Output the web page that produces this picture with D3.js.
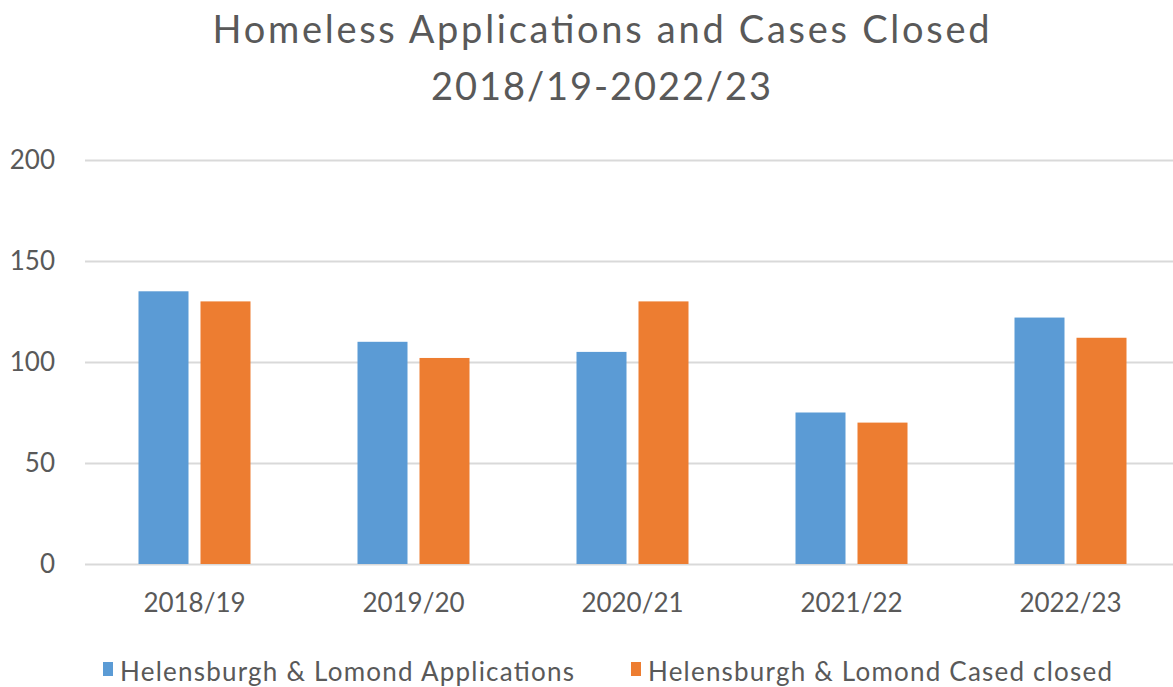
<!DOCTYPE html>
<html>
<head>
<meta charset="utf-8">
<script src="https://cdn.jsdelivr.net/npm/d3@7"></script>
<style>
  body { margin: 0; background: #fff; }
  text { font-family: Lato, "Open Sans", sans-serif; fill: #595959; }
</style>
</head>
<body>
<div id="chart"></div>
<script>
var width = 1173;
var height = 687;

// data
var categories = ["2018/19", "2019/20", "2020/21", "2021/22", "2022/23"];
var series = ["Helensburgh & Lomond Applications", "Helensburgh & Lomond Cased closed"];
var applications = [135, 110, 105, 75, 122];
var casesClosed = [130, 102, 130, 70, 112];
var yTicks = [0, 50, 100, 150, 200];
var colors = ["#5B9BD5", "#ED7D31"];

var svg = d3.select("#chart")
	.append("svg")
	.attr("width", width)
	.attr("height", height);

var x0 = d3.scaleBand()
	.domain(categories)
	.range([85, 1180])
	.padding(0);

var x1 = d3.scaleBand()
	.domain(series)
	.range([53.5, 165.5])
	.paddingInner(12 / 62);

var y = d3.scaleLinear()
	.domain([0, 200])
	.range([564, 160]);

// title
svg.append("text")
	.attr("x", 601).attr("y", 43)
	.attr("text-anchor", "middle")
	.attr("textLength", 777).attr("lengthAdjust", "spacing")
	.style("font-size", "38px")
	.text("Homeless Applications and Cases Closed");
svg.append("text")
	.attr("x", 601).attr("y", 100)
	.attr("text-anchor", "middle")
	.attr("textLength", 340).attr("lengthAdjust", "spacing")
	.style("font-size", "38px")
	.text("2018/19-2022/23");

// gridlines
var grid = svg.append("g")
	.attr("transform", "translate(85,0)")
	.call(d3.axisLeft(y).tickValues(yTicks).tickSize(-(1180 - 85)).tickFormat(""));
grid.select(".domain").remove();
grid.selectAll("line").attr("stroke", "#d9d9d9").attr("stroke-width", 2);

// y labels
svg.append("g").selectAll("text")
	.data(yTicks)
	.enter().append("text")
	.attr("x", 55)
	.attr("y", function(d) { return y(d) + 9; })
	.attr("text-anchor", "end")
	.style("font-size", "26px")
	.text(function(d) { return d; });

// bars
var bars = [];
categories.forEach(function(c, i) {
	bars.push({cat: c, s: 0, v: applications[i]});
	bars.push({cat: c, s: 1, v: casesClosed[i]});
});

svg.append("g").selectAll("rect")
	.data(bars)
	.enter().append("rect")
	.attr("x", function(d) { return x0(d.cat) + x1(series[d.s]); })
	.attr("y", function(d) { return y(d.v); })
	.attr("width", x1.bandwidth())
	.attr("height", function(d) { return y(0) - y(d.v); })
	.attr("fill", function(d) { return colors[d.s]; });

// x labels
svg.append("g").selectAll("text")
	.data(categories)
	.enter().append("text")
	.attr("x", function(d) { return x0(d) + x0.bandwidth() / 2; })
	.attr("y", 612)
	.attr("text-anchor", "middle")
	.style("font-size", "26px")
	.text(function(d) { return d; });

// legend
var legendX = [103, 631];
var legendW = [454, 464];
var legend = svg.append("g").selectAll("g")
	.data(series)
	.enter().append("g")
	.attr("transform", function(d, i) { return "translate(" + legendX[i] + ",662)"; });
legend.append("rect")
	.attr("width", 10).attr("height", 14)
	.attr("fill", function(d, i) { return colors[i]; });
legend.append("text")
	.attr("x", 17).attr("y", 19)
	.attr("textLength", function(d, i) { return legendW[i]; })
	.attr("lengthAdjust", "spacing")
	.style("font-size", "26px")
	.text(function(d) { return d; });
</script>
</body>
</html>
